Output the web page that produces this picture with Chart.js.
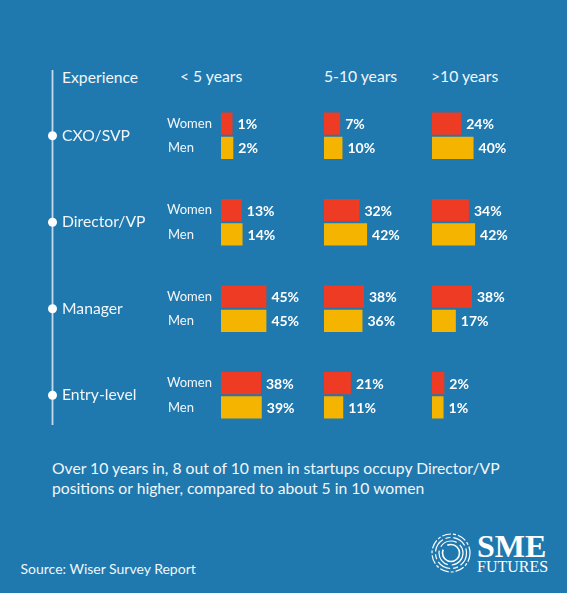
<!DOCTYPE html>
<html>
<head>
<meta charset="utf-8">
<script src="https://cdn.jsdelivr.net/npm/chart.js@4.4.1/dist/chart.umd.min.js"></script>
<style>
  html, body { margin: 0; padding: 0; }
  body {
    width: 567px; height: 593px; position: relative; overflow: hidden;
    background: #1f79af; color: #f2f6fa; font-family: Lato, sans-serif;
  }
  .txt { position: absolute; white-space: nowrap; }
  canvas { position: absolute; top: 0; }
</style>
</head>
<body>

<div class="txt" style="left:62px; top:67px; font-size:15.7px; line-height:20px;">Experience</div>
<div id="headers"></div>

<canvas id="col0" width="351" height="452" style="left:0px"></canvas>
<canvas id="col1" width="130" height="452" style="left:324px"></canvas>
<canvas id="col2" width="130" height="452" style="left:432px"></canvas>

<div class="txt" style="left:52px; top:457.5px; font-size:15.7px; line-height:20.5px;">
  Over 10 years in, 8 out of 10 men in startups occupy Director/VP<br>
  positions or higher, compared to about 5 in 10 women
</div>
<div class="txt" style="left:20.5px; top:559.5px; font-size:14px; line-height:17px;">Source: Wiser Survey Report</div>

<!-- logo -->
<svg class="txt" style="left:430px; top:532px;" width="44" height="44" viewBox="0 0 44 44">
  <g fill="none" stroke="#ffffff" stroke-width="1.2">
    <circle cx="21" cy="21" r="19" stroke-dasharray="9 2 3 2"/>
    <circle cx="21" cy="21" r="15.5" stroke-dasharray="14 3 5 3"/>
    <circle cx="21" cy="21" r="12" stroke-dasharray="18 4"/>
    <circle cx="21" cy="21" r="8.5" stroke-width="1.6" stroke-dasharray="30 6"/>
  </g>
</svg>
<div class="txt" style="left:477px; top:530px; font-family:'Liberation Serif',serif; font-weight:bold; font-size:32px; line-height:32px; color:#fff;">SME</div>
<div class="txt" style="left:477px; top:558.5px; font-family:'Liberation Serif',serif; font-size:16px; line-height:16px; color:#fff;">FUTURES</div>

<script>
// roles and experience groups
const roles = ['CXO/SVP', 'Director/VP', 'Manager', 'Entry-level'];
const columns = ['< 5 years', '5-10 years', '>10 years'];
const genders = ['Women', 'Men'];

// share of each role (%), per experience group
const womenUnder5 = [1, 13, 45, 38];
const menUnder5 = [2, 14, 45, 39];
const women5to10 = [7, 32, 38, 21];
const men5to10 = [10, 42, 36, 11];
const womenOver10 = [24, 34, 38, 2];
const menOver10 = [40, 42, 17, 1];

const columnData = [
    [womenUnder5, menUnder5],
    [women5to10, men5to10],
    [womenOver10, menOver10]
];

const RED = '#ee3b24';
const YELLOW = '#f5b400';
const TEXT = '#f2f6fa';
const headerX = [180, 324, 431];
const BAR_FLOOR = -14; // bars start a little before zero, like the infographic

// column headers
const headers = document.getElementById('headers');
columns.forEach((c, i) => {
    const d = document.createElement('div');
    d.className = 'txt';
    d.style.cssText = `left:${headerX[i]}px; top:65.5px; font-size:15.7px; line-height:20px;`;
    d.textContent = c;
    headers.appendChild(d);
});

// value labels at the end of every bar
const valueLabels = {
    id: 'valueLabels',
    afterDatasetsDraw(chart) {
        const ctx = chart.ctx;
        ctx.save();
        ctx.font = 'bold 14px Lato';
        ctx.fillStyle = '#ffffff';
        ctx.textAlign = 'left';
        ctx.textBaseline = 'middle';
        chart.data.datasets.forEach((ds, di) => {
            chart.getDatasetMeta(di).data.forEach((bar, i) => {
                ctx.fillText(ds.data[i] + '%', bar.x + 5, bar.y + 1);
            });
        });
        ctx.restore();
    }
};

// timeline, dots and Women/Men labels for the first column
const timeline = {
    id: 'timeline',
    afterDraw(chart) {
        const ctx = chart.ctx;
        const y = chart.scales.y;
        ctx.save();
        ctx.strokeStyle = 'rgba(235,242,250,0.8)';
        ctx.lineWidth = 1.8;
        ctx.beginPath();
        ctx.moveTo(52.5, 70);
        ctx.lineTo(52.5, 425);
        ctx.stroke();
        ctx.fillStyle = '#ffffff';
        roles.forEach((r, i) => {
            ctx.beginPath();
            ctx.arc(52.5, y.getPixelForValue(i), 4.5, 0, Math.PI * 2);
            ctx.fill();
        });
        ctx.font = '13px Lato';
        ctx.fillStyle = TEXT;
        ctx.textBaseline = 'middle';
        chart.data.datasets.forEach((ds, di) => {
            chart.getDatasetMeta(di).data.forEach(bar => {
                ctx.fillText(genders[di], 167 + di, bar.y);
            });
        });
        ctx.restore();
    }
};

function makeChart(id, data, first) {
    const yScale = {
        display: first,
        grid: { display: false },
        border: { display: false },
        ticks: {
            crossAlign: 'far',
            padding: 0,
            color: TEXT,
            font: { family: 'Lato', size: 15.7 }
        }
    };
    if (first) {
        yScale.afterFit = function(scale) { scale.width = 159; };
    }

    new Chart(document.getElementById(id), {
        type: 'bar',
        data: {
            labels: roles,
            datasets: [
                { label: genders[0], data: data[0], backgroundColor: RED, base: BAR_FLOOR },
                { label: genders[1], data: data[1], backgroundColor: YELLOW, base: BAR_FLOOR }
            ]
        },
        options: {
            indexAxis: 'y',
            responsive: false,
            animation: false,
            devicePixelRatio: 1,
            categoryPercentage: 0.565,
            barPercentage: 0.91,
            layout: { padding: { left: first ? 62 : 0, right: 30, top: 92.5, bottom: 13.5 } },
            plugins: { legend: { display: false }, tooltip: { enabled: false } },
            scales: {
                x: { display: false, min: BAR_FLOOR, max: 116 },
                y: yScale
            }
        },
        plugins: first ? [valueLabels, timeline] : [valueLabels]
    });
}

columnData.forEach((d, i) => makeChart('col' + i, d, i === 0));
</script>
</body>
</html>
